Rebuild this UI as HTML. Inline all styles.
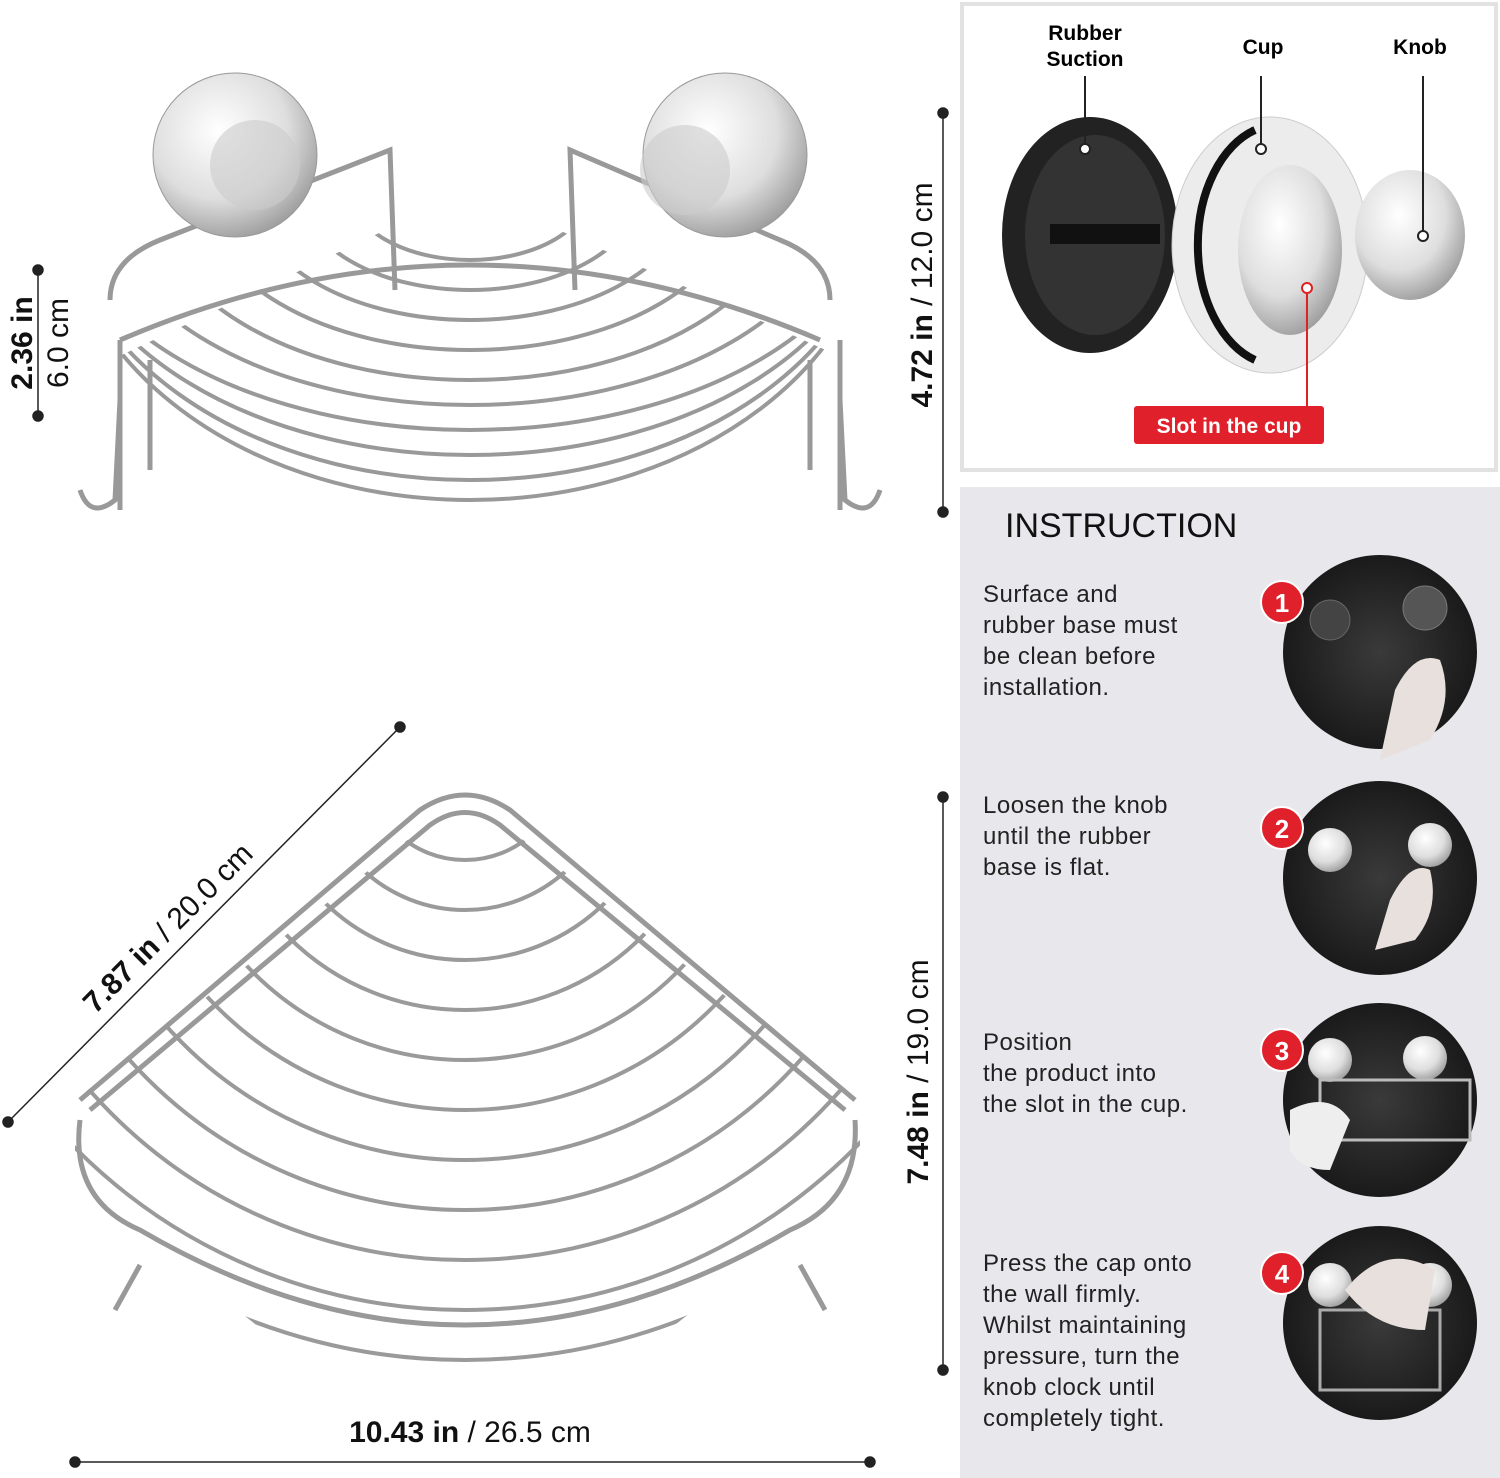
<!DOCTYPE html>
<html><head><meta charset="utf-8"><style>
body{margin:0;width:1500px;height:1478px;background:#fff;overflow:hidden;font-family:"Liberation Sans",sans-serif}
</style></head><body>
<svg width="1500" height="1478" viewBox="0 0 1500 1478" xmlns="http://www.w3.org/2000/svg" style="position:absolute;left:0;top:0">
<defs>
<clipPath id="bot"><polygon points="465,795 75,1100 75,1180 300,1360 465,1395 630,1360 860,1180 860,1100"/></clipPath>
<clipPath id="top"><polygon points="470,190 90,370 90,520 470,530 870,520 870,370"/></clipPath>
<radialGradient id="chrome" cx="0.4" cy="0.35" r="0.7"><stop offset="0" stop-color="#fff"/><stop offset="0.6" stop-color="#dedede"/><stop offset="1" stop-color="#999"/></radialGradient>
<radialGradient id="ph" cx="0.5" cy="0.5" r="0.5"><stop offset="0" stop-color="#3a3a3a"/><stop offset="1" stop-color="#1a1a1a"/></radialGradient>
</defs>
<rect x="962" y="4" width="534" height="466" fill="#fff" stroke="#e2e2e2" stroke-width="4"/>
<text x="1085" y="40" font-size="21" font-weight="bold" text-anchor="middle">Rubber</text>
<text x="1085" y="66" font-size="21" font-weight="bold" text-anchor="middle">Suction</text>
<text x="1263" y="54" font-size="21" font-weight="bold" text-anchor="middle">Cup</text>
<text x="1420" y="54" font-size="21" font-weight="bold" text-anchor="middle">Knob</text>
<ellipse cx="1090" cy="235" rx="88" ry="118" fill="#222"/>
<ellipse cx="1095" cy="235" rx="70" ry="100" fill="#333"/>
<rect x="1050" y="224" width="110" height="20" fill="#111"/>
<ellipse cx="1270" cy="245" rx="98" ry="128" fill="#ececec" stroke="#ccc"/>
<path d="M1255,130 A80,120 0 0 0 1255,360" stroke="#111" stroke-width="8" fill="none"/>
<ellipse cx="1290" cy="250" rx="52" ry="85" fill="url(#chrome)"/>
<ellipse cx="1410" cy="235" rx="55" ry="65" fill="url(#chrome)"/>
<line x1="1085" y1="76" x2="1085" y2="146" stroke="#222" stroke-width="2"/>
<circle cx="1085" cy="149" r="5" fill="#fff" stroke="#222" stroke-width="2"/>
<line x1="1261" y1="76" x2="1261" y2="146" stroke="#222" stroke-width="2"/>
<circle cx="1261" cy="149" r="5" fill="#fff" stroke="#222" stroke-width="2"/>
<line x1="1423" y1="76" x2="1423" y2="232" stroke="#222" stroke-width="2"/>
<circle cx="1423" cy="236" r="5" fill="#fff" stroke="#222" stroke-width="2"/>
<line x1="1307" y1="292" x2="1307" y2="408" stroke="#d22" stroke-width="2"/>
<circle cx="1307" cy="288" r="5" fill="#fff" stroke="#d22" stroke-width="2"/>
<rect x="1134" y="406" width="190" height="38" rx="3" fill="#e0202a"/>
<text x="1229" y="433" font-size="21" font-weight="bold" fill="#fff" text-anchor="middle">Slot in the cup</text>
<rect x="960" y="487" width="540" height="991" fill="#e8e8ec"/>
<text x="1005" y="537" font-size="34" fill="#111">INSTRUCTION</text>
<g font-size="24" fill="#222" letter-spacing="0.5">
<text x="983" y="602">Surface and</text><text x="983" y="633">rubber base must</text><text x="983" y="664">be clean before</text><text x="983" y="695">installation.</text>
<text x="983" y="813">Loosen the knob</text><text x="983" y="844">until the rubber</text><text x="983" y="875">base is flat.</text>
<text x="983" y="1050">Position</text><text x="983" y="1081">the product into</text><text x="983" y="1112">the slot in the cup.</text>
<text x="983" y="1271">Press the cap onto</text><text x="983" y="1302">the wall firmly.</text><text x="983" y="1333">Whilst maintaining</text><text x="983" y="1364">pressure, turn the</text><text x="983" y="1395">knob clock until</text><text x="983" y="1426">completely tight.</text>
</g>
<g>
<circle cx="1380" cy="652" r="97" fill="url(#ph)"/>
<circle cx="1380" cy="878" r="97" fill="url(#ph)"/>
<circle cx="1380" cy="1100" r="97" fill="url(#ph)"/>
<circle cx="1380" cy="1323" r="97" fill="url(#ph)"/>
<circle cx="1330" cy="620" r="20" fill="#444" stroke="#666"/><circle cx="1425" cy="608" r="22" fill="#555" stroke="#777"/>
<circle cx="1330" cy="850" r="22" fill="url(#chrome)"/><circle cx="1430" cy="845" r="22" fill="url(#chrome)"/>
<circle cx="1330" cy="1060" r="22" fill="url(#chrome)"/><circle cx="1425" cy="1058" r="22" fill="url(#chrome)"/>
<circle cx="1330" cy="1285" r="22" fill="url(#chrome)"/><circle cx="1430" cy="1285" r="22" fill="url(#chrome)"/>
<rect x="1320" y="1080" width="150" height="60" fill="none" stroke="#bbb" stroke-width="3"/>
<rect x="1320" y="1310" width="120" height="80" fill="none" stroke="#aaa" stroke-width="3"/>
<path d="M1395,690 q20,-40 45,-30 q15,40 -10,80 l-50,20 z" fill="#e8e0dc"/>
<path d="M1390,900 q20,-40 40,-30 q10,40 -15,70 l-40,10 z" fill="#e8e0dc"/>
<path d="M1290,1110 q40,-20 60,10 l-20,50 q-30,0 -40,-20 z" fill="#eee"/>
<path d="M1345,1290 q40,-50 90,-20 l-10,60 q-50,0 -80,-40 z" fill="#e8e0dc"/>
<circle cx="1282" cy="602" r="21" fill="#e0202a" stroke="#fff" stroke-width="2"/>
<circle cx="1282" cy="828" r="21" fill="#e0202a" stroke="#fff" stroke-width="2"/>
<circle cx="1282" cy="1050" r="21" fill="#e0202a" stroke="#fff" stroke-width="2"/>
<circle cx="1282" cy="1273" r="21" fill="#e0202a" stroke="#fff" stroke-width="2"/>
<g font-size="26" font-weight="bold" fill="#fff" text-anchor="middle">
<text x="1282" y="612">1</text><text x="1282" y="838">2</text><text x="1282" y="1060">3</text><text x="1282" y="1283">4</text></g>
</g>
<g stroke="#222" stroke-width="1.5" fill="#222">
<line x1="943" y1="113" x2="943" y2="512"/><circle cx="943" cy="113" r="5"/><circle cx="943" cy="512" r="5"/>
<line x1="943" y1="797" x2="943" y2="1370"/><circle cx="943" cy="797" r="5"/><circle cx="943" cy="1370" r="5"/>
<line x1="38" y1="270" x2="38" y2="416"/><circle cx="38" cy="270" r="5"/><circle cx="38" cy="416" r="5"/>
<line x1="75" y1="1462" x2="870" y2="1462"/><circle cx="75" cy="1462" r="5"/><circle cx="870" cy="1462" r="5"/>
<line x1="8" y1="1122" x2="400" y2="727"/><circle cx="8" cy="1122" r="5"/><circle cx="400" cy="727" r="5"/>
</g>
<g font-size="30" fill="#111">
<text transform="translate(932,295) rotate(-90)" text-anchor="middle"><tspan font-weight="bold">4.72 in</tspan> / 12.0 cm</text>
<text transform="translate(928,1072) rotate(-90)" text-anchor="middle"><tspan font-weight="bold">7.48 in</tspan> / 19.0 cm</text>
<text transform="translate(32,343) rotate(-90)" text-anchor="middle" font-weight="bold">2.36 in</text>
<text transform="translate(68,343) rotate(-90)" text-anchor="middle">6.0 cm</text>
<text x="470" y="1442" text-anchor="middle"><tspan font-weight="bold">10.43 in</tspan> / 26.5 cm</text>
<text transform="translate(175,935) rotate(-45)" text-anchor="middle"><tspan font-weight="bold">7.87 in</tspan> / 20.0 cm</text>
</g>
<g clip-path="url(#bot)" fill="none" stroke="#9a9a9a" stroke-width="4">
<circle cx="465" cy="760" r="100"/><circle cx="465" cy="760" r="150"/><circle cx="465" cy="760" r="200"/><circle cx="465" cy="760" r="250"/><circle cx="465" cy="760" r="300"/><circle cx="465" cy="760" r="350"/><circle cx="465" cy="760" r="400"/><circle cx="465" cy="760" r="450"/><circle cx="465" cy="760" r="500"/><circle cx="465" cy="760" r="550"/><circle cx="465" cy="760" r="600"/>
</g>
<g fill="none" stroke="#999" stroke-width="5">
<path d="M80,1100 L420,810 Q465,780 510,810 L855,1100"/>
<path d="M90,1110 L430,825 Q465,800 500,825 L845,1110"/>
<path d="M80,1120 Q70,1200 140,1230 Q465,1420 790,1230 Q860,1200 855,1120"/>
<path d="M115,1310 L140,1265 M800,1265 L825,1310"/>
</g>
<g clip-path="url(#top)" fill="none" stroke="#999" stroke-width="4">
<ellipse cx="470" cy="190" rx="120" ry="70"/><ellipse cx="470" cy="190" rx="170" ry="100"/><ellipse cx="470" cy="190" rx="220" ry="130"/><ellipse cx="470" cy="190" rx="270" ry="160"/><ellipse cx="470" cy="190" rx="320" ry="190"/><ellipse cx="470" cy="190" rx="370" ry="215"/><ellipse cx="470" cy="190" rx="410" ry="240"/><ellipse cx="470" cy="190" rx="410" ry="265"/><ellipse cx="470" cy="190" rx="410" ry="290"/><ellipse cx="470" cy="190" rx="410" ry="310"/>
</g>
<g fill="none" stroke="#999" stroke-width="5">
<path d="M110,300 Q110,260 160,240 L390,150 L395,290"/>
<path d="M830,300 Q830,260 780,240 L570,150 L575,290"/>
<path d="M120,340 Q470,190 820,340"/>
<path d="M80,490 Q90,520 115,500 L120,400"/><path d="M880,490 Q870,520 845,500 L840,400"/>
<path d="M120,340 L120,510 M150,360 L150,470 M840,340 L840,510 M810,360 L810,470"/>
</g>
<circle cx="235" cy="155" r="82" fill="url(#chrome)" stroke="#999"/>
<circle cx="725" cy="155" r="82" fill="url(#chrome)" stroke="#999"/>
<circle cx="255" cy="165" r="45" fill="#ccc" opacity="0.6"/>
<circle cx="685" cy="170" r="45" fill="#ccc" opacity="0.6"/>
</svg>
</body></html>
